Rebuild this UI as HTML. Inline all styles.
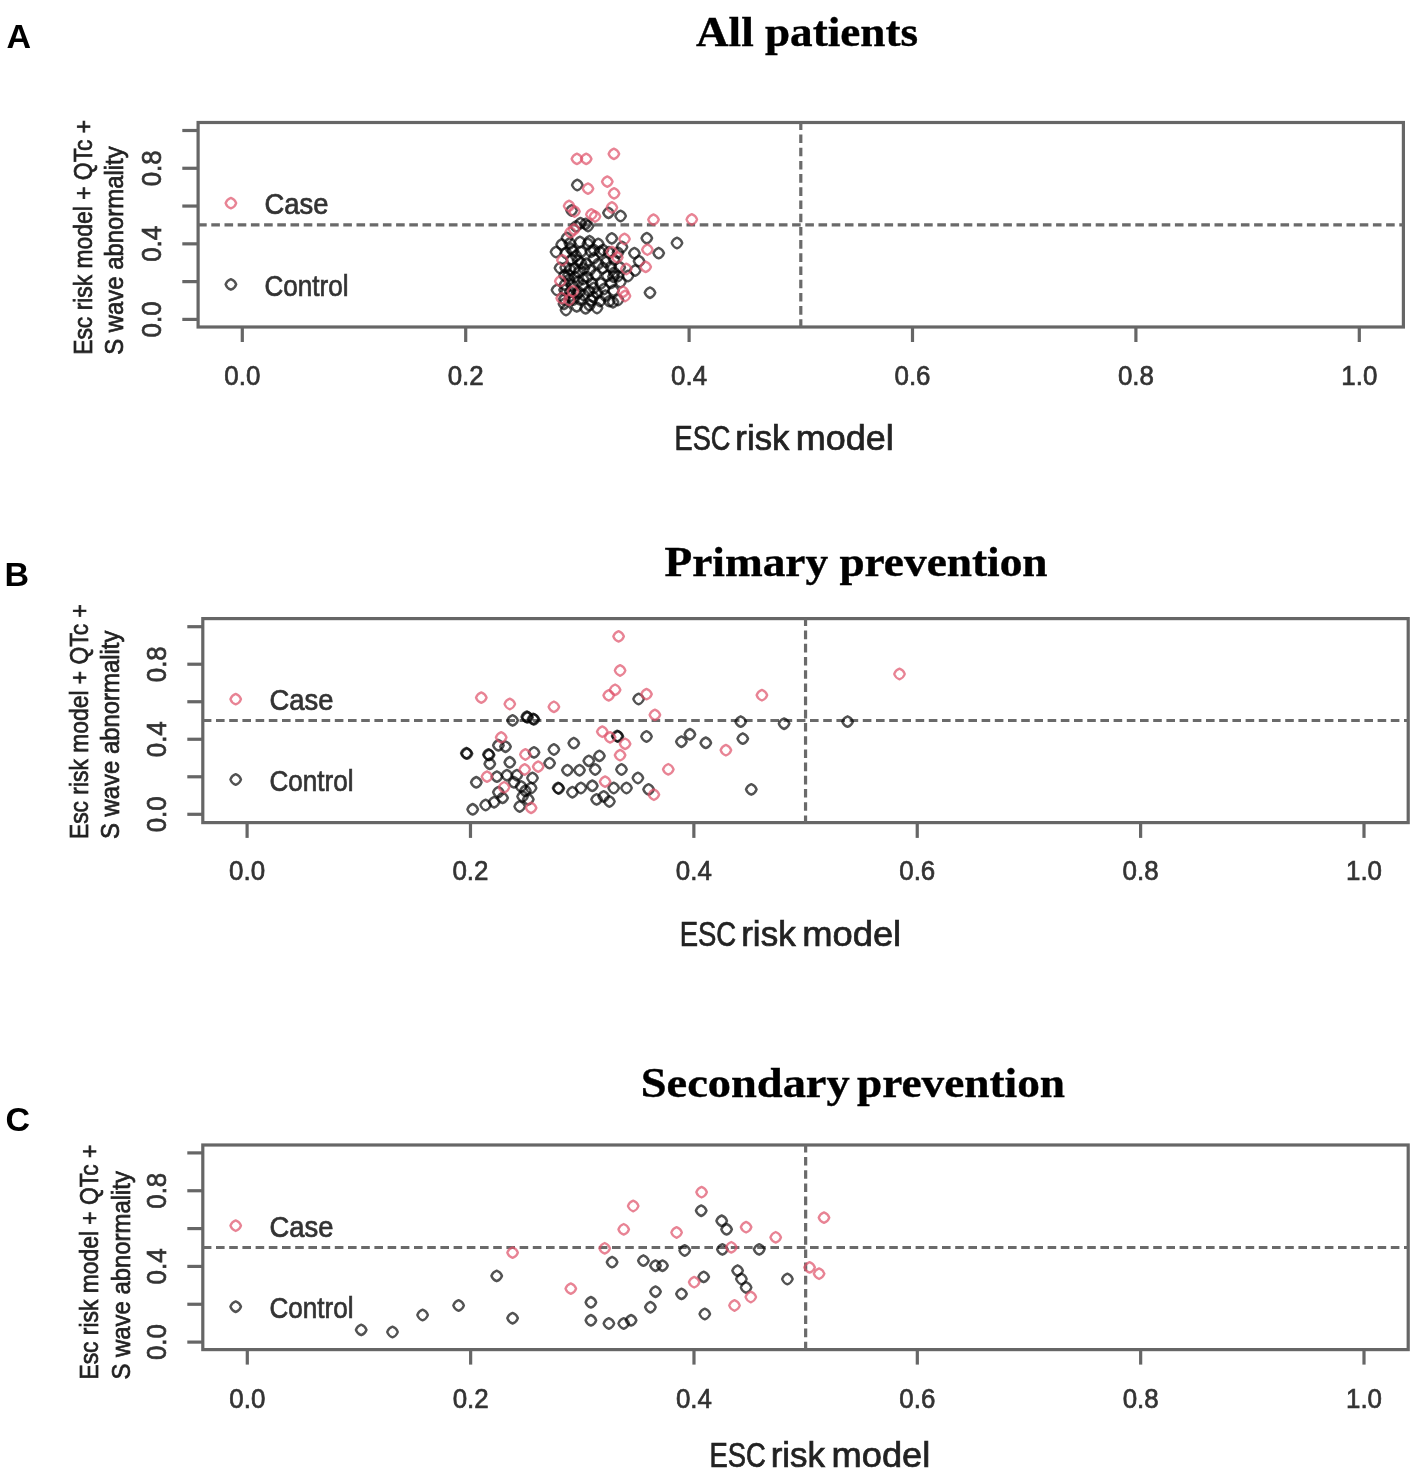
<!DOCTYPE html>
<html><head><meta charset="utf-8"><style>
html,body{margin:0;padding:0;background:#fff;width:1417px;height:1475px;overflow:hidden;}
svg{display:block;filter:blur(0.45px);}
</style></head><body>
<svg width="1417" height="1475" viewBox="0 0 1417 1475">
<rect x="0" y="0" width="1417" height="1475" fill="#fff"/>
<defs><path id="mr" d="M0,-5.3Q4,-4 5.3,0Q4,4 0,5.3Q-4,4 -5.3,0Q-4,-4 0,-5.3Z" fill="none" stroke="#DF536B" stroke-opacity="0.72" stroke-width="2.3" stroke-linejoin="round"/><path id="mb" d="M0,-5.3Q4,-4 5.3,0Q4,4 0,5.3Q-4,4 -5.3,0Q-4,-4 0,-5.3Z" fill="none" stroke="#000" stroke-opacity="0.68" stroke-width="2.4" stroke-linejoin="round"/></defs>
<rect x="198.1" y="122.5" width="1205.30" height="204.50" fill="none" stroke="#666" stroke-width="3.2"/>
<line x1="182.3" y1="319.40" x2="198.1" y2="319.40" stroke="#666" stroke-width="3.2"/>
<line x1="182.3" y1="281.62" x2="198.1" y2="281.62" stroke="#666" stroke-width="3.2"/>
<line x1="182.3" y1="243.84" x2="198.1" y2="243.84" stroke="#666" stroke-width="3.2"/>
<line x1="182.3" y1="206.06" x2="198.1" y2="206.06" stroke="#666" stroke-width="3.2"/>
<line x1="182.3" y1="168.28" x2="198.1" y2="168.28" stroke="#666" stroke-width="3.2"/>
<line x1="182.3" y1="130.50" x2="198.1" y2="130.50" stroke="#666" stroke-width="3.2"/>
<line x1="242.30" y1="327.0" x2="242.30" y2="342.0" stroke="#666" stroke-width="3.2"/>
<text x="242.30" y="385.00" font-size="28" font-family='"Liberation Sans", sans-serif' fill="#333" stroke="#333" stroke-width="0.7" text-anchor="middle" textLength="36.00" lengthAdjust="spacingAndGlyphs">0.0</text>
<line x1="465.70" y1="327.0" x2="465.70" y2="342.0" stroke="#666" stroke-width="3.2"/>
<text x="465.70" y="385.00" font-size="28" font-family='"Liberation Sans", sans-serif' fill="#333" stroke="#333" stroke-width="0.7" text-anchor="middle" textLength="36.00" lengthAdjust="spacingAndGlyphs">0.2</text>
<line x1="689.10" y1="327.0" x2="689.10" y2="342.0" stroke="#666" stroke-width="3.2"/>
<text x="689.10" y="385.00" font-size="28" font-family='"Liberation Sans", sans-serif' fill="#333" stroke="#333" stroke-width="0.7" text-anchor="middle" textLength="36.00" lengthAdjust="spacingAndGlyphs">0.4</text>
<line x1="912.50" y1="327.0" x2="912.50" y2="342.0" stroke="#666" stroke-width="3.2"/>
<text x="912.50" y="385.00" font-size="28" font-family='"Liberation Sans", sans-serif' fill="#333" stroke="#333" stroke-width="0.7" text-anchor="middle" textLength="36.00" lengthAdjust="spacingAndGlyphs">0.6</text>
<line x1="1135.90" y1="327.0" x2="1135.90" y2="342.0" stroke="#666" stroke-width="3.2"/>
<text x="1135.90" y="385.00" font-size="28" font-family='"Liberation Sans", sans-serif' fill="#333" stroke="#333" stroke-width="0.7" text-anchor="middle" textLength="36.00" lengthAdjust="spacingAndGlyphs">0.8</text>
<line x1="1359.30" y1="327.0" x2="1359.30" y2="342.0" stroke="#666" stroke-width="3.2"/>
<text x="1359.30" y="385.00" font-size="28" font-family='"Liberation Sans", sans-serif' fill="#333" stroke="#333" stroke-width="0.7" text-anchor="middle" textLength="36.00" lengthAdjust="spacingAndGlyphs">1.0</text>
<text x="161.50" y="319.40" font-size="28" font-family='"Liberation Sans", sans-serif' fill="#333" stroke="#333" stroke-width="0.7" text-anchor="middle" textLength="36.00" lengthAdjust="spacingAndGlyphs" transform="rotate(-90 161.50 319.40)">0.0</text>
<text x="161.50" y="243.84" font-size="28" font-family='"Liberation Sans", sans-serif' fill="#333" stroke="#333" stroke-width="0.7" text-anchor="middle" textLength="36.00" lengthAdjust="spacingAndGlyphs" transform="rotate(-90 161.50 243.84)">0.4</text>
<text x="161.50" y="168.28" font-size="28" font-family='"Liberation Sans", sans-serif' fill="#333" stroke="#333" stroke-width="0.7" text-anchor="middle" textLength="36.00" lengthAdjust="spacingAndGlyphs" transform="rotate(-90 161.50 168.28)">0.8</text>
<text x="91.80" y="354.80" font-size="26.6" font-family='"Liberation Sans", sans-serif' fill="#222" stroke="#222" stroke-width="0.7" textLength="235.00" lengthAdjust="spacingAndGlyphs" transform="rotate(-90 91.80 354.80)">Esc risk model + QTc +</text>
<text x="123.30" y="354.80" font-size="26.6" font-family='"Liberation Sans", sans-serif' fill="#222" stroke="#222" stroke-width="0.7" textLength="208.50" lengthAdjust="spacingAndGlyphs" transform="rotate(-90 123.30 354.80)">S wave abnormality</text>
<line x1="198.1" y1="224.95" x2="1403.4" y2="224.95" stroke="#6a6a6a" stroke-width="3.2" stroke-dasharray="8.6 4.6" stroke-dashoffset="0"/>
<line x1="800.80" y1="122.5" x2="800.80" y2="327.0" stroke="#6a6a6a" stroke-width="3.2" stroke-dasharray="8.6 4.6" stroke-dashoffset="1.2"/>
<use href="#mr" x="230.9" y="203.1"/>
<use href="#mb" x="230.9" y="284.4"/>
<text x="264.50" y="214.40" font-size="29" font-family='"Liberation Sans", sans-serif' fill="#333" stroke="#333" stroke-width="0.7" textLength="64.00" lengthAdjust="spacingAndGlyphs">Case</text>
<text x="264.50" y="295.70" font-size="29" font-family='"Liberation Sans", sans-serif' fill="#333" stroke="#333" stroke-width="0.7" textLength="84.00" lengthAdjust="spacingAndGlyphs">Control</text>
<text x="674.50" y="450.20" font-size="34.5" font-family='"Liberation Sans", sans-serif' fill="#222" stroke="#222" stroke-width="0.7" textLength="55.93" lengthAdjust="spacingAndGlyphs">ESC</text>
<text x="735.38" y="450.20" font-size="34.5" font-family='"Liberation Sans", sans-serif' fill="#222" stroke="#222" stroke-width="0.7" textLength="53.95" lengthAdjust="spacingAndGlyphs">risk</text>
<text x="795.76" y="450.20" font-size="34.5" font-family='"Liberation Sans", sans-serif' fill="#222" stroke="#222" stroke-width="0.7" textLength="97.99" lengthAdjust="spacingAndGlyphs">model</text>
<text x="696.00" y="45.50" font-size="43" font-family='"Liberation Serif", serif' fill="#000" stroke="#000" stroke-width="0.4" font-weight="bold" textLength="222.00" lengthAdjust="spacingAndGlyphs">All patients</text>
<text x="6.50" y="47.60" font-size="34" font-family='"Liberation Sans", sans-serif' fill="#000" font-weight="bold">A</text>
<use href="#mb" x="577.3" y="185.0"/>
<use href="#mb" x="608.5" y="212.9"/>
<use href="#mb" x="620.6" y="216.0"/>
<use href="#mb" x="571.6" y="210.5"/>
<use href="#mb" x="580.5" y="223.2"/>
<use href="#mb" x="585.6" y="223.9"/>
<use href="#mb" x="646.8" y="238.2"/>
<use href="#mb" x="677.0" y="243.0"/>
<use href="#mb" x="658.7" y="253.1"/>
<use href="#mb" x="650.0" y="292.7"/>
<use href="#mb" x="589.5" y="241.1"/>
<use href="#mb" x="598.3" y="243.9"/>
<use href="#mb" x="611.8" y="238.4"/>
<use href="#mb" x="561.7" y="244.5"/>
<use href="#mb" x="634.4" y="253.2"/>
<use href="#mb" x="639.1" y="261.1"/>
<use href="#mb" x="635.2" y="270.5"/>
<use href="#mb" x="620.4" y="282.0"/>
<use href="#mb" x="613.0" y="302.2"/>
<use href="#mb" x="588.0" y="226.0"/>
<use href="#mb" x="576.0" y="226.5"/>
<use href="#mb" x="571.0" y="248.6"/>
<use href="#mb" x="581.1" y="251.8"/>
<use href="#mb" x="571.6" y="259.4"/>
<use href="#mb" x="586.2" y="263.8"/>
<use href="#mb" x="593.8" y="258.1"/>
<use href="#mb" x="598.3" y="263.8"/>
<use href="#mb" x="570.3" y="269.6"/>
<use href="#mb" x="578.6" y="272.1"/>
<use href="#mb" x="587.5" y="277.2"/>
<use href="#mb" x="595.7" y="274.6"/>
<use href="#mb" x="607.2" y="275.9"/>
<use href="#mb" x="614.2" y="272.7"/>
<use href="#mb" x="564.6" y="275.3"/>
<use href="#mb" x="569.1" y="279.7"/>
<use href="#mb" x="578.0" y="281.6"/>
<use href="#mb" x="583.0" y="285.4"/>
<use href="#mb" x="593.8" y="288.0"/>
<use href="#mb" x="600.8" y="283.5"/>
<use href="#mb" x="611.0" y="282.9"/>
<use href="#mb" x="613.5" y="290.5"/>
<use href="#mb" x="564.6" y="289.9"/>
<use href="#mb" x="583.7" y="295.0"/>
<use href="#mb" x="593.2" y="296.9"/>
<use href="#mb" x="605.3" y="295.6"/>
<use href="#mb" x="564.0" y="303.9"/>
<use href="#mb" x="576.7" y="306.4"/>
<use href="#mb" x="589.4" y="305.1"/>
<use href="#mb" x="585.6" y="308.3"/>
<use href="#mb" x="579.9" y="299.4"/>
<use href="#mb" x="576.7" y="294.3"/>
<use href="#mb" x="566.0" y="253.0"/>
<use href="#mb" x="576.0" y="256.0"/>
<use href="#mb" x="581.0" y="263.0"/>
<use href="#mb" x="575.0" y="277.0"/>
<use href="#mb" x="590.0" y="270.0"/>
<use href="#mb" x="603.0" y="268.0"/>
<use href="#mb" x="583.0" y="279.0"/>
<use href="#mb" x="572.0" y="285.0"/>
<use href="#mb" x="589.0" y="291.0"/>
<use href="#mb" x="600.0" y="301.0"/>
<use href="#mb" x="570.0" y="296.0"/>
<use href="#mb" x="566.0" y="310.0"/>
<use href="#mb" x="597.0" y="308.0"/>
<use href="#mb" x="604.0" y="289.0"/>
<use href="#mb" x="618.0" y="276.0"/>
<use href="#mb" x="628.0" y="276.0"/>
<use href="#mb" x="618.0" y="300.0"/>
<use href="#mb" x="606.0" y="262.0"/>
<use href="#mb" x="622.0" y="247.0"/>
<use href="#mb" x="603.0" y="250.0"/>
<use href="#mb" x="594.0" y="250.0"/>
<use href="#mb" x="557.0" y="290.0"/>
<use href="#mb" x="560.0" y="268.0"/>
<use href="#mb" x="567.0" y="238.0"/>
<use href="#mb" x="580.0" y="242.0"/>
<use href="#mb" x="556.0" y="252.0"/>
<use href="#mb" x="569.9" y="243.3"/>
<use href="#mb" x="587.9" y="244.0"/>
<use href="#mb" x="573.0" y="250.9"/>
<use href="#mb" x="591.0" y="251.7"/>
<use href="#mb" x="600.0" y="252.0"/>
<use href="#mb" x="609.0" y="252.3"/>
<use href="#mb" x="618.0" y="252.7"/>
<use href="#mb" x="578.1" y="260.7"/>
<use href="#mb" x="614.1" y="259.6"/>
<use href="#mb" x="565.7" y="267.6"/>
<use href="#mb" x="574.7" y="268.0"/>
<use href="#mb" x="583.7" y="268.4"/>
<use href="#mb" x="610.7" y="266.9"/>
<use href="#mb" x="619.7" y="267.3"/>
<use href="#mb" x="568.5" y="274.9"/>
<use href="#mb" x="613.5" y="276.7"/>
<use href="#mb" x="565.0" y="284.7"/>
<use href="#mb" x="592.0" y="283.3"/>
<use href="#mb" x="570.2" y="292.0"/>
<use href="#mb" x="579.2" y="292.4"/>
<use href="#mb" x="597.2" y="293.1"/>
<use href="#mb" x="564.3" y="299.3"/>
<use href="#mb" x="573.3" y="299.6"/>
<use href="#mb" x="591.3" y="300.4"/>
<use href="#mb" x="609.3" y="301.1"/>
<use href="#mr" x="576.9" y="158.9"/>
<use href="#mr" x="586.2" y="158.9"/>
<use href="#mr" x="613.9" y="153.9"/>
<use href="#mr" x="588.0" y="188.6"/>
<use href="#mr" x="607.3" y="181.6"/>
<use href="#mr" x="614.1" y="193.4"/>
<use href="#mr" x="569.1" y="206.0"/>
<use href="#mr" x="574.5" y="211.5"/>
<use href="#mr" x="591.4" y="214.5"/>
<use href="#mr" x="595.0" y="216.5"/>
<use href="#mr" x="611.9" y="207.5"/>
<use href="#mr" x="653.5" y="219.6"/>
<use href="#mr" x="691.8" y="219.5"/>
<use href="#mr" x="570.5" y="232.3"/>
<use href="#mr" x="624.5" y="239.0"/>
<use href="#mr" x="562.4" y="260.1"/>
<use href="#mr" x="560.3" y="281.1"/>
<use href="#mr" x="561.7" y="298.1"/>
<use href="#mr" x="625.0" y="296.0"/>
<use href="#mr" x="645.7" y="266.9"/>
<use href="#mr" x="626.3" y="269.0"/>
<use href="#mr" x="647.4" y="249.7"/>
<use href="#mr" x="611.8" y="252.0"/>
<use href="#mr" x="617.3" y="257.4"/>
<use href="#mr" x="574.1" y="229.5"/>
<use href="#mr" x="623.1" y="291.8"/>
<use href="#mr" x="572.9" y="291.2"/>
<use href="#mr" x="569.1" y="300.0"/>
<rect x="202.8" y="618.6" width="1205.40" height="204.00" fill="none" stroke="#666" stroke-width="3.2"/>
<line x1="187.3" y1="814.30" x2="202.8" y2="814.30" stroke="#666" stroke-width="3.2"/>
<line x1="187.3" y1="776.78" x2="202.8" y2="776.78" stroke="#666" stroke-width="3.2"/>
<line x1="187.3" y1="739.26" x2="202.8" y2="739.26" stroke="#666" stroke-width="3.2"/>
<line x1="187.3" y1="701.74" x2="202.8" y2="701.74" stroke="#666" stroke-width="3.2"/>
<line x1="187.3" y1="664.22" x2="202.8" y2="664.22" stroke="#666" stroke-width="3.2"/>
<line x1="187.3" y1="626.70" x2="202.8" y2="626.70" stroke="#666" stroke-width="3.2"/>
<line x1="247.10" y1="822.6" x2="247.10" y2="837.9" stroke="#666" stroke-width="3.2"/>
<text x="247.10" y="880.00" font-size="28" font-family='"Liberation Sans", sans-serif' fill="#333" stroke="#333" stroke-width="0.7" text-anchor="middle" textLength="36.00" lengthAdjust="spacingAndGlyphs">0.0</text>
<line x1="470.48" y1="822.6" x2="470.48" y2="837.9" stroke="#666" stroke-width="3.2"/>
<text x="470.48" y="880.00" font-size="28" font-family='"Liberation Sans", sans-serif' fill="#333" stroke="#333" stroke-width="0.7" text-anchor="middle" textLength="36.00" lengthAdjust="spacingAndGlyphs">0.2</text>
<line x1="693.86" y1="822.6" x2="693.86" y2="837.9" stroke="#666" stroke-width="3.2"/>
<text x="693.86" y="880.00" font-size="28" font-family='"Liberation Sans", sans-serif' fill="#333" stroke="#333" stroke-width="0.7" text-anchor="middle" textLength="36.00" lengthAdjust="spacingAndGlyphs">0.4</text>
<line x1="917.24" y1="822.6" x2="917.24" y2="837.9" stroke="#666" stroke-width="3.2"/>
<text x="917.24" y="880.00" font-size="28" font-family='"Liberation Sans", sans-serif' fill="#333" stroke="#333" stroke-width="0.7" text-anchor="middle" textLength="36.00" lengthAdjust="spacingAndGlyphs">0.6</text>
<line x1="1140.62" y1="822.6" x2="1140.62" y2="837.9" stroke="#666" stroke-width="3.2"/>
<text x="1140.62" y="880.00" font-size="28" font-family='"Liberation Sans", sans-serif' fill="#333" stroke="#333" stroke-width="0.7" text-anchor="middle" textLength="36.00" lengthAdjust="spacingAndGlyphs">0.8</text>
<line x1="1364.00" y1="822.6" x2="1364.00" y2="837.9" stroke="#666" stroke-width="3.2"/>
<text x="1364.00" y="880.00" font-size="28" font-family='"Liberation Sans", sans-serif' fill="#333" stroke="#333" stroke-width="0.7" text-anchor="middle" textLength="36.00" lengthAdjust="spacingAndGlyphs">1.0</text>
<text x="166.50" y="814.30" font-size="28" font-family='"Liberation Sans", sans-serif' fill="#333" stroke="#333" stroke-width="0.7" text-anchor="middle" textLength="36.00" lengthAdjust="spacingAndGlyphs" transform="rotate(-90 166.50 814.30)">0.0</text>
<text x="166.50" y="739.26" font-size="28" font-family='"Liberation Sans", sans-serif' fill="#333" stroke="#333" stroke-width="0.7" text-anchor="middle" textLength="36.00" lengthAdjust="spacingAndGlyphs" transform="rotate(-90 166.50 739.26)">0.4</text>
<text x="166.50" y="664.22" font-size="28" font-family='"Liberation Sans", sans-serif' fill="#333" stroke="#333" stroke-width="0.7" text-anchor="middle" textLength="36.00" lengthAdjust="spacingAndGlyphs" transform="rotate(-90 166.50 664.22)">0.8</text>
<text x="87.70" y="839.10" font-size="26.6" font-family='"Liberation Sans", sans-serif' fill="#222" stroke="#222" stroke-width="0.7" textLength="235.00" lengthAdjust="spacingAndGlyphs" transform="rotate(-90 87.70 839.10)">Esc risk model + QTc +</text>
<text x="119.20" y="839.10" font-size="26.6" font-family='"Liberation Sans", sans-serif' fill="#222" stroke="#222" stroke-width="0.7" textLength="208.50" lengthAdjust="spacingAndGlyphs" transform="rotate(-90 119.20 839.10)">S wave abnormality</text>
<line x1="202.8" y1="720.50" x2="1408.2" y2="720.50" stroke="#6a6a6a" stroke-width="3.2" stroke-dasharray="8.6 4.6" stroke-dashoffset="0"/>
<line x1="805.55" y1="618.6" x2="805.55" y2="822.6" stroke="#6a6a6a" stroke-width="3.2" stroke-dasharray="8.6 4.6" stroke-dashoffset="1.2"/>
<use href="#mr" x="235.7" y="699.1"/>
<use href="#mb" x="235.7" y="779.5"/>
<text x="269.50" y="710.10" font-size="29" font-family='"Liberation Sans", sans-serif' fill="#333" stroke="#333" stroke-width="0.7" textLength="64.00" lengthAdjust="spacingAndGlyphs">Case</text>
<text x="269.50" y="790.80" font-size="29" font-family='"Liberation Sans", sans-serif' fill="#333" stroke="#333" stroke-width="0.7" textLength="84.00" lengthAdjust="spacingAndGlyphs">Control</text>
<text x="679.70" y="945.50" font-size="34.5" font-family='"Liberation Sans", sans-serif' fill="#222" stroke="#222" stroke-width="0.7" textLength="56.50" lengthAdjust="spacingAndGlyphs">ESC</text>
<text x="741.20" y="945.50" font-size="34.5" font-family='"Liberation Sans", sans-serif' fill="#222" stroke="#222" stroke-width="0.7" textLength="54.50" lengthAdjust="spacingAndGlyphs">risk</text>
<text x="802.20" y="945.50" font-size="34.5" font-family='"Liberation Sans", sans-serif' fill="#222" stroke="#222" stroke-width="0.7" textLength="99.00" lengthAdjust="spacingAndGlyphs">model</text>
<text x="664.50" y="576.30" font-size="43" font-family='"Liberation Serif", serif' fill="#000" stroke="#000" stroke-width="0.4" font-weight="bold" textLength="383.00" lengthAdjust="spacingAndGlyphs">Primary prevention</text>
<text x="4.40" y="586.00" font-size="34" font-family='"Liberation Sans", sans-serif' fill="#000" font-weight="bold">B</text>
<use href="#mb" x="512.6" y="720.4"/>
<use href="#mb" x="526.8" y="716.8"/>
<use href="#mb" x="533.2" y="718.9"/>
<use href="#mb" x="638.6" y="699.0"/>
<use href="#mb" x="617.2" y="736.0"/>
<use href="#mb" x="573.8" y="743.1"/>
<use href="#mb" x="553.9" y="749.5"/>
<use href="#mb" x="534.0" y="752.4"/>
<use href="#mb" x="466.3" y="753.1"/>
<use href="#mb" x="488.4" y="754.5"/>
<use href="#mb" x="498.4" y="745.3"/>
<use href="#mb" x="505.5" y="746.7"/>
<use href="#mb" x="489.8" y="763.8"/>
<use href="#mb" x="509.8" y="762.3"/>
<use href="#mb" x="549.6" y="763.1"/>
<use href="#mb" x="599.4" y="755.9"/>
<use href="#mb" x="588.8" y="760.9"/>
<use href="#mb" x="567.4" y="770.2"/>
<use href="#mb" x="579.5" y="770.2"/>
<use href="#mb" x="595.2" y="769.5"/>
<use href="#mb" x="621.5" y="769.5"/>
<use href="#mb" x="637.9" y="778.0"/>
<use href="#mb" x="476.3" y="782.3"/>
<use href="#mb" x="496.9" y="776.6"/>
<use href="#mb" x="532.5" y="778.0"/>
<use href="#mb" x="558.1" y="788.0"/>
<use href="#mb" x="572.4" y="792.2"/>
<use href="#mb" x="580.9" y="788.0"/>
<use href="#mb" x="592.3" y="785.8"/>
<use href="#mb" x="613.7" y="788.0"/>
<use href="#mb" x="626.5" y="788.0"/>
<use href="#mb" x="596.6" y="799.4"/>
<use href="#mb" x="609.4" y="801.5"/>
<use href="#mb" x="603.7" y="796.5"/>
<use href="#mb" x="472.7" y="809.3"/>
<use href="#mb" x="485.6" y="805.0"/>
<use href="#mb" x="494.1" y="802.2"/>
<use href="#mb" x="502.6" y="797.9"/>
<use href="#mb" x="498.4" y="792.2"/>
<use href="#mb" x="519.7" y="806.5"/>
<use href="#mb" x="516.9" y="775.2"/>
<use href="#mb" x="514.0" y="782.3"/>
<use href="#mb" x="521.1" y="786.5"/>
<use href="#mb" x="525.4" y="790.8"/>
<use href="#mb" x="531.1" y="788.0"/>
<use href="#mb" x="522.6" y="796.5"/>
<use href="#mb" x="528.3" y="799.4"/>
<use href="#mb" x="506.9" y="775.2"/>
<use href="#mb" x="740.7" y="721.6"/>
<use href="#mb" x="784.1" y="723.7"/>
<use href="#mb" x="847.6" y="721.6"/>
<use href="#mb" x="646.5" y="736.5"/>
<use href="#mb" x="689.9" y="734.3"/>
<use href="#mb" x="681.4" y="741.7"/>
<use href="#mb" x="705.8" y="742.8"/>
<use href="#mb" x="742.8" y="738.6"/>
<use href="#mb" x="648.6" y="789.4"/>
<use href="#mb" x="751.3" y="789.4"/>
<use href="#mb" x="467.0" y="753.6"/>
<use href="#mb" x="489.1" y="755.0"/>
<use href="#mb" x="617.9" y="736.5"/>
<use href="#mb" x="558.8" y="788.5"/>
<use href="#mb" x="527.5" y="717.3"/>
<use href="#mb" x="533.9" y="719.4"/>
<use href="#mr" x="618.6" y="636.4"/>
<use href="#mr" x="620.1" y="670.5"/>
<use href="#mr" x="615.1" y="689.8"/>
<use href="#mr" x="608.7" y="695.4"/>
<use href="#mr" x="481.3" y="697.6"/>
<use href="#mr" x="509.8" y="704.0"/>
<use href="#mr" x="553.9" y="706.8"/>
<use href="#mr" x="501.2" y="737.4"/>
<use href="#mr" x="602.3" y="731.7"/>
<use href="#mr" x="610.1" y="737.4"/>
<use href="#mr" x="625.1" y="743.8"/>
<use href="#mr" x="620.1" y="755.2"/>
<use href="#mr" x="525.4" y="754.5"/>
<use href="#mr" x="487.0" y="776.6"/>
<use href="#mr" x="524.7" y="769.5"/>
<use href="#mr" x="538.2" y="766.6"/>
<use href="#mr" x="504.1" y="787.3"/>
<use href="#mr" x="605.1" y="781.6"/>
<use href="#mr" x="531.1" y="807.9"/>
<use href="#mr" x="899.5" y="674.0"/>
<use href="#mr" x="761.9" y="695.2"/>
<use href="#mr" x="646.5" y="694.1"/>
<use href="#mr" x="654.9" y="714.9"/>
<use href="#mr" x="725.9" y="750.2"/>
<use href="#mr" x="668.3" y="769.3"/>
<use href="#mr" x="653.9" y="794.7"/>
<rect x="202.8" y="1145.0" width="1205.40" height="204.60" fill="none" stroke="#666" stroke-width="3.2"/>
<line x1="187.3" y1="1342.10" x2="202.8" y2="1342.10" stroke="#666" stroke-width="3.2"/>
<line x1="187.3" y1="1304.26" x2="202.8" y2="1304.26" stroke="#666" stroke-width="3.2"/>
<line x1="187.3" y1="1266.42" x2="202.8" y2="1266.42" stroke="#666" stroke-width="3.2"/>
<line x1="187.3" y1="1228.58" x2="202.8" y2="1228.58" stroke="#666" stroke-width="3.2"/>
<line x1="187.3" y1="1190.74" x2="202.8" y2="1190.74" stroke="#666" stroke-width="3.2"/>
<line x1="187.3" y1="1152.90" x2="202.8" y2="1152.90" stroke="#666" stroke-width="3.2"/>
<line x1="247.30" y1="1349.6" x2="247.30" y2="1364.6" stroke="#666" stroke-width="3.2"/>
<text x="247.30" y="1407.50" font-size="28" font-family='"Liberation Sans", sans-serif' fill="#333" stroke="#333" stroke-width="0.7" text-anchor="middle" textLength="36.00" lengthAdjust="spacingAndGlyphs">0.0</text>
<line x1="470.64" y1="1349.6" x2="470.64" y2="1364.6" stroke="#666" stroke-width="3.2"/>
<text x="470.64" y="1407.50" font-size="28" font-family='"Liberation Sans", sans-serif' fill="#333" stroke="#333" stroke-width="0.7" text-anchor="middle" textLength="36.00" lengthAdjust="spacingAndGlyphs">0.2</text>
<line x1="693.98" y1="1349.6" x2="693.98" y2="1364.6" stroke="#666" stroke-width="3.2"/>
<text x="693.98" y="1407.50" font-size="28" font-family='"Liberation Sans", sans-serif' fill="#333" stroke="#333" stroke-width="0.7" text-anchor="middle" textLength="36.00" lengthAdjust="spacingAndGlyphs">0.4</text>
<line x1="917.32" y1="1349.6" x2="917.32" y2="1364.6" stroke="#666" stroke-width="3.2"/>
<text x="917.32" y="1407.50" font-size="28" font-family='"Liberation Sans", sans-serif' fill="#333" stroke="#333" stroke-width="0.7" text-anchor="middle" textLength="36.00" lengthAdjust="spacingAndGlyphs">0.6</text>
<line x1="1140.66" y1="1349.6" x2="1140.66" y2="1364.6" stroke="#666" stroke-width="3.2"/>
<text x="1140.66" y="1407.50" font-size="28" font-family='"Liberation Sans", sans-serif' fill="#333" stroke="#333" stroke-width="0.7" text-anchor="middle" textLength="36.00" lengthAdjust="spacingAndGlyphs">0.8</text>
<line x1="1364.00" y1="1349.6" x2="1364.00" y2="1364.6" stroke="#666" stroke-width="3.2"/>
<text x="1364.00" y="1407.50" font-size="28" font-family='"Liberation Sans", sans-serif' fill="#333" stroke="#333" stroke-width="0.7" text-anchor="middle" textLength="36.00" lengthAdjust="spacingAndGlyphs">1.0</text>
<text x="166.50" y="1342.10" font-size="28" font-family='"Liberation Sans", sans-serif' fill="#333" stroke="#333" stroke-width="0.7" text-anchor="middle" textLength="36.00" lengthAdjust="spacingAndGlyphs" transform="rotate(-90 166.50 1342.10)">0.0</text>
<text x="166.50" y="1266.42" font-size="28" font-family='"Liberation Sans", sans-serif' fill="#333" stroke="#333" stroke-width="0.7" text-anchor="middle" textLength="36.00" lengthAdjust="spacingAndGlyphs" transform="rotate(-90 166.50 1266.42)">0.4</text>
<text x="166.50" y="1190.74" font-size="28" font-family='"Liberation Sans", sans-serif' fill="#333" stroke="#333" stroke-width="0.7" text-anchor="middle" textLength="36.00" lengthAdjust="spacingAndGlyphs" transform="rotate(-90 166.50 1190.74)">0.8</text>
<text x="98.10" y="1379.60" font-size="26.6" font-family='"Liberation Sans", sans-serif' fill="#222" stroke="#222" stroke-width="0.7" textLength="235.00" lengthAdjust="spacingAndGlyphs" transform="rotate(-90 98.10 1379.60)">Esc risk model + QTc +</text>
<text x="130.20" y="1379.60" font-size="26.6" font-family='"Liberation Sans", sans-serif' fill="#222" stroke="#222" stroke-width="0.7" textLength="208.50" lengthAdjust="spacingAndGlyphs" transform="rotate(-90 130.20 1379.60)">S wave abnormality</text>
<line x1="202.8" y1="1247.50" x2="1408.2" y2="1247.50" stroke="#6a6a6a" stroke-width="3.2" stroke-dasharray="8.6 4.6" stroke-dashoffset="0"/>
<line x1="805.65" y1="1145.0" x2="805.65" y2="1349.6" stroke="#6a6a6a" stroke-width="3.2" stroke-dasharray="8.6 4.6" stroke-dashoffset="1.2"/>
<use href="#mr" x="235.7" y="1225.7"/>
<use href="#mb" x="235.7" y="1306.7"/>
<text x="269.50" y="1237.30" font-size="29" font-family='"Liberation Sans", sans-serif' fill="#333" stroke="#333" stroke-width="0.7" textLength="64.00" lengthAdjust="spacingAndGlyphs">Case</text>
<text x="269.50" y="1318.00" font-size="29" font-family='"Liberation Sans", sans-serif' fill="#333" stroke="#333" stroke-width="0.7" textLength="84.00" lengthAdjust="spacingAndGlyphs">Control</text>
<text x="709.40" y="1467.30" font-size="34.5" font-family='"Liberation Sans", sans-serif' fill="#222" stroke="#222" stroke-width="0.7" textLength="56.34" lengthAdjust="spacingAndGlyphs">ESC</text>
<text x="770.73" y="1467.30" font-size="34.5" font-family='"Liberation Sans", sans-serif' fill="#222" stroke="#222" stroke-width="0.7" textLength="54.35" lengthAdjust="spacingAndGlyphs">risk</text>
<text x="831.56" y="1467.30" font-size="34.5" font-family='"Liberation Sans", sans-serif' fill="#222" stroke="#222" stroke-width="0.7" textLength="98.73" lengthAdjust="spacingAndGlyphs">model</text>
<text x="640.70" y="1097.00" font-size="43" font-family='"Liberation Serif", serif' fill="#000" stroke="#000" stroke-width="0.4" font-weight="bold" textLength="209.00" lengthAdjust="spacingAndGlyphs">Secondary</text>
<text x="857.00" y="1097.00" font-size="43" font-family='"Liberation Serif", serif' fill="#000" stroke="#000" stroke-width="0.4" font-weight="bold" textLength="208.00" lengthAdjust="spacingAndGlyphs">prevention</text>
<text x="5.40" y="1131.00" font-size="34" font-family='"Liberation Sans", sans-serif' fill="#000" font-weight="bold">C</text>
<use href="#mb" x="361.2" y="1329.9"/>
<use href="#mb" x="392.5" y="1332.0"/>
<use href="#mb" x="422.6" y="1315.0"/>
<use href="#mb" x="458.6" y="1305.5"/>
<use href="#mb" x="496.7" y="1275.9"/>
<use href="#mb" x="512.6" y="1318.2"/>
<use href="#mb" x="612.1" y="1262.1"/>
<use href="#mb" x="590.9" y="1302.3"/>
<use href="#mb" x="590.9" y="1320.3"/>
<use href="#mb" x="608.9" y="1323.5"/>
<use href="#mb" x="623.7" y="1323.5"/>
<use href="#mb" x="631.1" y="1320.3"/>
<use href="#mb" x="701.2" y="1210.7"/>
<use href="#mb" x="721.7" y="1220.8"/>
<use href="#mb" x="726.6" y="1229.3"/>
<use href="#mb" x="684.7" y="1250.5"/>
<use href="#mb" x="722.4" y="1249.4"/>
<use href="#mb" x="759.2" y="1249.4"/>
<use href="#mb" x="643.4" y="1260.6"/>
<use href="#mb" x="655.5" y="1265.7"/>
<use href="#mb" x="662.5" y="1265.7"/>
<use href="#mb" x="703.7" y="1276.9"/>
<use href="#mb" x="737.6" y="1270.6"/>
<use href="#mb" x="741.4" y="1279.0"/>
<use href="#mb" x="746.1" y="1287.5"/>
<use href="#mb" x="787.4" y="1279.0"/>
<use href="#mb" x="655.5" y="1291.7"/>
<use href="#mb" x="681.5" y="1293.9"/>
<use href="#mb" x="650.4" y="1307.2"/>
<use href="#mb" x="704.8" y="1314.0"/>
<use href="#mr" x="633.2" y="1206.0"/>
<use href="#mr" x="623.7" y="1229.3"/>
<use href="#mr" x="604.7" y="1248.3"/>
<use href="#mr" x="512.6" y="1252.6"/>
<use href="#mr" x="570.8" y="1288.6"/>
<use href="#mr" x="701.6" y="1192.2"/>
<use href="#mr" x="676.6" y="1232.5"/>
<use href="#mr" x="746.1" y="1227.2"/>
<use href="#mr" x="775.7" y="1237.3"/>
<use href="#mr" x="731.3" y="1247.3"/>
<use href="#mr" x="824.0" y="1217.6"/>
<use href="#mr" x="809.6" y="1267.4"/>
<use href="#mr" x="819.1" y="1273.7"/>
<use href="#mr" x="694.2" y="1282.2"/>
<use href="#mr" x="750.8" y="1297.0"/>
<use href="#mr" x="734.5" y="1305.5"/>
</svg>
</body></html>
